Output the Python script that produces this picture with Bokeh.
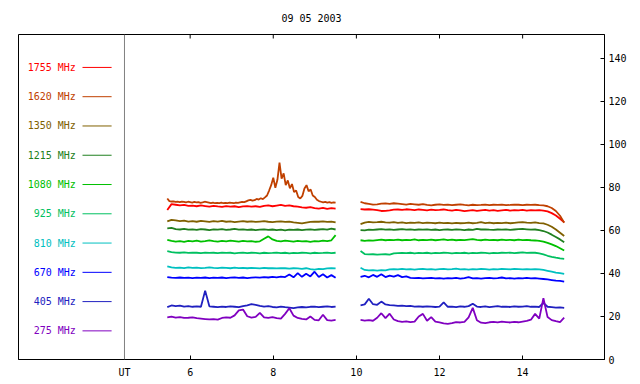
import numpy as np
from bokeh.plotting import figure
from bokeh.models import Range1d, FixedTicker, Span, ColumnDataSource
from bokeh.core.properties import value
from bokeh.embed import file_html
from bokeh.resources import INLINE

# ---------------- data ----------------
title_text = "09 05 2003"
labels = ["1755 MHz", "1620 MHz", "1350 MHz", "1215 MHz", "1080 MHz",
          "925 MHz", "810 MHz", "670 MHz", "405 MHz", "275 MHz"]
colors = ["#FF0000", "#C04000", "#806000", "#208020", "#00C000",
          "#00C060", "#00C0C0", "#0000FF", "#2020C0", "#8000C0"]
x_ticks = [6, 8, 10, 12, 14]
y_ticks = [0, 20, 40, 60, 80, 100, 120, 140]
seg1_span = (5.45, 9.5)
seg2_span = (10.1, 15.0)

f1755_a = [69.5, 72.2, 71.9, 71.6, 71.8, 71.4, 71.5, 71.2, 71.6, 71.3, 71.0, 71.4, 71.1, 70.9,
           71.3, 71.0, 71.2, 70.8, 71.1, 71.3, 71.0, 71.2, 70.9, 71.4, 71.6, 71.2, 71.5, 71.8,
           71.4, 71.6, 71.2, 71.0, 70.7, 70.5, 70.8, 70.3, 70.1, 70.4, 70.0, 70.3, 70.1]
f1755_b = [69.9, 69.7, 69.8, 69.6, 69.4, 69.0, 69.1, 69.3, 69.6, 69.7, 69.5, 69.8, 69.6, 69.4,
           69.7, 69.5, 69.3, 69.6, 69.4, 69.5, 69.7, 69.4, 69.2, 69.5, 69.3, 68.9, 69.2, 69.4,
           69.1, 69.3, 69.5, 69.2, 69.4, 69.1, 69.3, 69.5, 69.2, 69.4, 69.3, 69.5, 69.2, 69.4,
           69.3, 69.4, 69.2, 68.8, 68.0, 66.9, 65.4, 63.8]

f1620_a = [74.8, 73.6, 73.4, 73.5, 73.2, 73.3, 73.1, 73.4, 73.2, 73.0, 73.3, 73.1, 72.9, 73.2,
           73.0, 73.1, 72.8, 73.0, 73.3, 73.1, 72.9, 72.7, 72.9, 72.6, 72.8, 72.7, 72.9, 72.6,
           72.8, 72.7, 72.9, 72.8, 72.6, 72.9, 72.8, 73.0, 73.2, 73.1, 73.5, 73.9, 74.2, 73.8,
           74.0, 74.6, 74.3, 74.9, 74.5, 75.3, 76.2, 78.5, 81.0, 84.5, 79.8, 83.5, 91.5, 84.0,
           86.5, 81.0, 83.2, 79.5, 81.5, 77.8, 78.5, 75.5, 74.8, 76.0, 79.5, 81.0, 78.2, 79.0,
           76.2, 75.5, 74.2, 73.6, 73.3, 73.0, 73.2, 72.9, 73.1, 72.8, 73.0, 72.9]
f1620_b = [73.2, 72.6, 72.3, 72.0, 72.1, 72.4, 72.5, 72.3, 72.6, 72.4, 72.2, 72.0, 72.3, 72.1,
           71.9, 72.2, 71.8, 71.6, 71.9, 72.1, 71.8, 72.0, 71.7, 71.9, 72.1, 71.8, 71.6, 71.9,
           71.7, 71.8, 72.0, 71.7, 71.9, 71.8, 72.0, 71.7, 71.8, 72.0, 71.9, 71.7, 71.9, 71.8,
           71.9, 71.7, 71.6, 71.2, 70.4, 69.0, 66.8, 63.5]

f1350_a = [64.2, 64.9, 64.6, 64.3, 64.5, 64.1, 64.3, 64.0, 64.4, 64.2, 63.9, 64.3, 64.1, 64.4,
           64.0, 64.2, 63.8, 64.1, 64.3, 64.0, 64.2, 63.9, 64.1, 64.3, 64.0, 63.8, 64.1, 64.2,
           63.9, 64.1, 63.7, 63.5, 63.2, 63.6, 63.9, 64.1, 64.0, 64.2, 63.9, 64.1, 63.7]
f1350_b = [62.9, 63.6, 63.9, 63.7, 63.8, 64.0, 63.7, 63.6, 63.8, 63.5, 63.7, 63.4, 63.6, 63.5,
           63.7, 63.4, 63.6, 63.5, 63.3, 63.6, 63.4, 63.5, 63.2, 63.5, 63.3, 63.4, 63.6, 63.3,
           63.5, 63.8, 63.4, 63.6, 63.3, 63.5, 63.4, 63.6, 63.3, 63.5, 63.7, 63.8, 63.6, 63.5,
           63.7, 63.4, 63.2, 62.6, 61.7, 60.4, 58.9, 57.4]

f1215_a = [60.9, 61.2, 60.6, 60.4, 60.7, 60.3, 60.5, 60.2, 60.6, 60.4, 60.1, 60.5, 60.3, 60.6,
           60.2, 60.4, 60.7, 60.3, 60.5, 60.2, 60.4, 60.1, 60.3, 60.5, 60.2, 60.4, 60.1, 60.3,
           60.0, 60.3, 60.2, 60.4, 60.1, 60.3, 60.5, 60.2, 60.4, 60.6, 60.3, 60.8, 60.4]
f1215_b = [60.1, 60.0, 60.3, 60.2, 60.4, 60.6, 60.3, 60.5, 60.2, 60.4, 60.6, 60.3, 60.5, 60.2,
           60.4, 60.3, 60.5, 60.2, 60.4, 60.1, 60.3, 60.4, 60.2, 60.5, 60.3, 60.1, 60.4, 60.2,
           60.7, 60.4, 60.5, 60.3, 60.2, 60.4, 60.3, 60.5, 60.2, 60.4, 60.6, 60.7, 60.5, 60.3,
           60.4, 60.1, 59.7, 59.0, 58.0, 56.9, 55.8, 54.5]

f1080_a = [55.6, 55.1, 54.8, 55.0, 54.7, 55.1, 54.9, 55.2, 54.8, 55.0, 55.3, 55.0, 54.8, 55.1,
           54.9, 55.2, 55.0, 54.8, 55.1, 54.9, 55.0, 54.7, 54.9, 56.1, 57.2, 55.8, 55.1, 54.9,
           55.2, 55.0, 54.8, 55.1, 54.9, 55.0, 54.7, 55.0, 54.9, 55.2, 55.0, 55.4, 57.8]
f1080_b = [55.4, 55.1, 55.3, 55.2, 55.5, 55.7, 55.4, 55.6, 55.5, 55.7, 55.4, 55.6, 55.5, 55.8,
           55.4, 55.6, 55.5, 55.7, 55.4, 55.6, 55.8, 55.5, 55.7, 55.4, 55.6, 55.5, 55.7, 55.9,
           55.6, 55.4, 55.7, 55.5, 55.6, 55.4, 55.7, 55.5, 55.6, 55.4, 55.7, 55.5, 55.6, 55.4,
           55.3, 55.1, 54.8, 54.2, 53.5, 52.7, 51.7, 50.6]

f925_a = [50.3, 49.9, 49.7, 49.6, 49.8, 49.5, 49.7, 49.6, 49.4, 49.7, 49.5, 49.6, 49.4, 49.7,
          49.5, 49.6, 49.3, 49.5, 49.7, 49.4, 49.6, 49.5, 49.3, 49.6, 49.4, 49.5, 49.7, 49.4,
          49.6, 49.3, 49.5, 49.4, 49.6, 49.5, 49.3, 49.6, 49.4, 49.5, 49.7, 49.4, 49.6]
f925_b = [50.4, 49.0, 48.8, 48.9, 48.7, 48.8, 48.9, 48.7, 49.3, 49.4, 49.5, 49.4, 49.6, 49.3,
          49.5, 49.4, 49.6, 49.3, 49.5, 49.4, 49.6, 49.5, 49.3, 49.5, 49.4, 49.6, 49.3, 49.5,
          49.4, 49.6, 49.5, 49.3, 49.5, 49.4, 49.6, 49.5, 49.7, 49.4, 49.6, 49.8, 49.5, 49.7,
          49.6, 49.3, 48.8, 48.2, 47.7, 47.3, 47.0, 46.8]

f810_a = [43.3, 42.8, 42.6, 42.7, 42.5, 42.8, 42.6, 42.7, 42.5, 42.6, 42.8, 42.6, 42.5, 42.7,
          42.6, 42.4, 42.7, 42.5, 42.6, 42.4, 42.6, 42.5, 42.3, 42.6, 42.4, 42.5, 42.3, 42.5,
          42.4, 42.2, 42.4, 42.3, 42.1, 42.4, 42.0, 41.8, 42.1, 42.0, 42.3, 42.4, 42.3]
f810_b = [42.6, 41.6, 41.4, 41.5, 41.3, 41.5, 41.4, 41.9, 42.0, 41.9, 42.1, 41.9, 42.0, 41.8,
          42.0, 42.1, 41.9, 42.0, 41.8, 42.0, 42.1, 41.9, 42.0, 42.2, 41.9, 42.0, 41.8, 42.0,
          41.9, 42.1, 42.0, 41.8, 42.0, 41.9, 42.1, 42.0, 41.9, 42.1, 42.0, 41.9, 42.0, 41.9,
          42.0, 41.9, 41.6, 41.2, 40.8, 40.4, 40.1, 39.8]

f670_a = [38.3, 38.0, 37.9, 38.1, 37.9, 38.0, 37.8, 38.0, 37.9, 38.1, 37.8, 38.0, 37.9, 38.1,
          37.8, 38.0, 38.2, 37.9, 38.1, 37.8, 38.0, 38.2, 38.0, 38.3, 38.1, 38.4, 38.2, 38.5,
          38.3, 39.5, 38.2, 40.1, 38.4, 39.8, 38.6, 40.8, 38.3, 39.6, 38.1, 39.2, 38.0]
f670_b = [38.4, 38.9, 38.2, 39.3, 38.4, 39.6, 38.3, 39.0, 38.5, 39.2, 38.3, 38.6, 37.9, 37.8,
          37.9, 37.7, 37.8, 37.9, 37.7, 37.8, 37.6, 37.8, 37.7, 37.9, 37.6, 37.8, 38.3, 37.7,
          37.8, 37.6, 37.8, 37.9, 37.7, 37.8, 38.1, 37.7, 37.8, 37.6, 37.8, 37.7, 37.9, 37.7,
          37.8, 37.6, 37.4, 37.2, 36.9, 36.6, 36.5, 36.2]

f405_a = [24.3, 25.1, 24.8, 25.0, 24.6, 24.8, 24.5, 24.7, 24.5, 32.0, 24.7, 24.5, 24.3, 24.6,
          24.4, 24.7, 24.5, 24.3, 24.8, 25.2, 25.7, 25.4, 24.9, 24.6, 24.8, 24.4, 24.2, 24.6,
          24.3, 24.1, 23.9, 24.2, 24.4, 24.2, 24.5, 24.6, 24.3, 24.5, 24.7, 24.4, 24.6]
f405_b = [25.2, 25.6, 28.2, 25.7, 25.4, 26.9, 25.6, 25.3, 25.1, 24.9, 25.0, 24.8, 24.9, 24.6,
          24.7, 24.5, 24.7, 24.6, 24.4, 24.6, 26.5, 24.5, 24.6, 24.3, 24.7, 24.5, 24.8, 25.9,
          24.6, 24.4, 24.7, 24.3, 24.6, 24.8, 24.5, 24.6, 24.4, 24.7, 24.5, 24.6, 24.8, 24.5,
          24.6, 24.4, 26.3, 24.5, 24.3, 24.1, 24.2, 24.0]

f275_a = [19.6, 19.9, 19.5, 19.7, 19.3, 19.4, 19.6, 19.2, 19.0, 18.8, 18.6, 18.8, 18.5, 19.3,
          19.6, 19.4, 20.5, 22.8, 23.2, 20.1, 19.5, 19.8, 21.7, 19.6, 19.3, 19.7, 19.2, 19.0,
          21.2, 23.8, 20.4, 19.3, 18.9, 18.6, 20.0, 18.4, 18.2, 20.8, 18.3, 18.1, 18.4]
f275_b = [18.4, 18.1, 18.3, 18.0, 19.4, 21.5, 19.2, 21.3, 18.6, 17.8, 17.5, 17.7, 17.4, 17.6,
          20.0, 21.2, 18.0, 19.7, 17.6, 17.3, 16.8, 16.6, 16.9, 17.4, 17.2, 17.5, 19.6, 24.0,
          18.2, 17.1, 16.9, 17.3, 17.5, 17.2, 17.6, 17.4, 17.2, 17.5, 17.3, 17.6, 17.9, 18.5,
          21.2, 19.0, 28.5, 19.7, 18.3, 17.8, 17.4, 19.4]

series = [(f1755_a, f1755_b), (f1620_a, f1620_b), (f1350_a, f1350_b), (f1215_a, f1215_b),
          (f1080_a, f1080_b), (f925_a, f925_b), (f810_a, f810_b), (f670_a, f670_b),
          (f405_a, f405_b), (f275_a, f275_b)]

# ---------------- layout constants ----------------
W, H = 640, 384
B_LEFT, B_RIGHT, B_TOP, B_BOTTOM = 18, 36, 34, 25
X0, X1 = 1.87, 15.97
Y0, Y1 = 0, 151
UT_X = 4.42
LEG_TEXT_X = 3.25
LEG_LINE_X0, LEG_LINE_X1 = 3.41, 4.11
leg_y = [13.3 + 13.6 * (9 - i) for i in range(10)]
FONT = "DejaVu Sans Mono"
TICK_PX = 4

p = figure(width=W, height=H, x_range=Range1d(X0, X1), y_range=Range1d(Y0, Y1),
           output_backend="svg", toolbar_location=None, y_axis_location="right",
           min_border_left=B_LEFT, min_border_right=B_RIGHT, min_border_top=B_TOP,
           min_border_bottom=B_BOTTOM)
p.xgrid.visible = False
p.ygrid.visible = False
p.outline_line_color = "black"
p.outline_line_width = 1
p.background_fill_color = "white"
p.border_fill_color = "white"

p.title.text = title_text
p.title.align = "center"
p.title.text_font = FONT
p.title.text_font_size = "10px"
p.title.text_font_style = "normal"
p.title.text_color = "black"
p.title.standoff = 21

def style_axis(ax):
    ax.major_tick_in = TICK_PX
    ax.major_tick_out = 0
    ax.minor_tick_line_color = None
    ax.axis_line_color = "black"
    ax.major_tick_line_color = "black"
    ax.major_label_text_font = FONT
    ax.major_label_text_font_size = "10px"
    ax.major_label_text_color = "black"

yax = p.yaxis[0]
yax.ticker = FixedTicker(ticks=y_ticks)
style_axis(yax)
yax.major_label_standoff = 4

xax = p.xaxis[0]
xax.ticker = FixedTicker(ticks=[UT_X] + x_ticks)
xax.major_label_overrides = {UT_X: "UT"}
style_axis(xax)
xax.major_label_standoff = 7

# ticks along the top edge (pointing inward), derived from the tick list
frame_h = H - B_TOP - B_BOTTOM
tick_len = TICK_PX * (Y1 - Y0) / frame_h
p.segment(x0=x_ticks, x1=x_ticks, y0=[Y1] * len(x_ticks), y1=[Y1 - tick_len] * len(x_ticks),
          line_color="black", line_width=1)

p.add_layout(Span(location=UT_X, dimension="height", line_color="#808080", line_width=1))

# legend
leg_src = ColumnDataSource(dict(x=[LEG_TEXT_X] * len(labels), y=leg_y, text=labels, c=colors,
                                x0=[LEG_LINE_X0] * len(labels), x1=[LEG_LINE_X1] * len(labels)))
p.text(x="x", y="y", text="text", text_color="c", source=leg_src, text_align="right",
       text_baseline="middle", text_font=value(FONT), text_font_size="10px")
p.segment(x0="x0", x1="x1", y0="y", y1="y", color="c", line_width=1, source=leg_src)

# data
for (a, b), col in zip(series, colors):
    ta = np.linspace(seg1_span[0], seg1_span[1], len(a))
    tb = np.linspace(seg2_span[0], seg2_span[1], len(b))
    p.line(ta, a, line_color=col, line_width=1.8)
    p.line(tb, b, line_color=col, line_width=1.8)

open("out.html", "w").write(file_html(p, INLINE))
